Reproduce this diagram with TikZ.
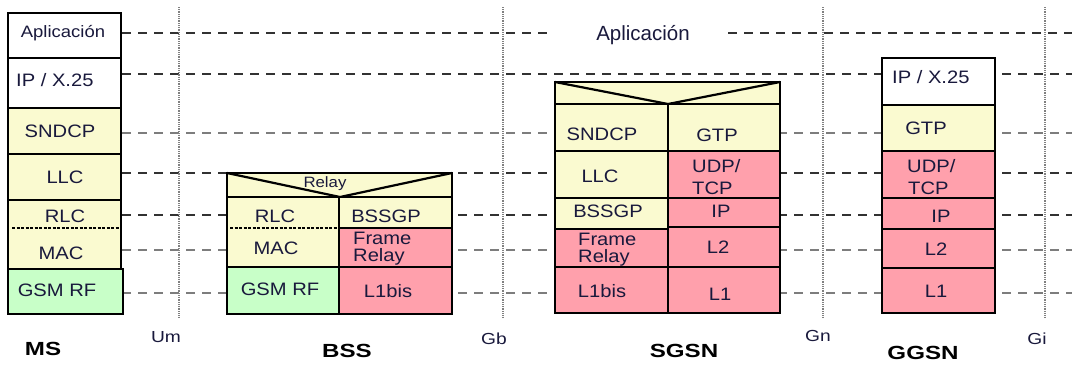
\documentclass[tikz,border=0pt]{standalone}
\usepackage{fontspec}
\setmainfont{Liberation Sans}
\usepackage{graphicx}
\definecolor{yel}{RGB}{250,250,208}
\definecolor{grn}{RGB}{200,255,200}
\definecolor{pnk}{RGB}{255,160,172}
\definecolor{txt}{RGB}{25,25,60}
\definecolor{dk}{RGB}{50,50,50}
\definecolor{lt}{RGB}{125,125,125}
\newcommand\hs[1]{\scalebox{1.12}[1]{#1}}
\newcommand\hl[1]{\scalebox{1.27}[1]{#1}}
\newcommand\hi[1]{\scalebox{1.2}[1]{#1}}
\begin{document}
\begin{tikzpicture}[x=1bp,y=-1bp,
  cell/.style={draw=black, line width=2.7bp},
  lay/.style={line width=1.4bp, dash pattern=on 9bp off 7bp},
  iface/.style={draw=gray, line width=1.2bp, dash pattern=on 1bp off 0.8bp},
  sep/.style={draw=black, line width=2.7bp, dash pattern=on 3bp off 1.5bp},
  vee/.style={draw=black, line width=2.2bp},
  t/.style={inner sep=0pt, anchor=base, text=txt, font=\fontsize{18bp}{20bp}\selectfont},
  tl/.style={t, anchor=base west},
  tsm/.style={t, font=\fontsize{16.5bp}{18bp}\selectfont},
  trel/.style={t, font=\fontsize{15bp}{17bp}\selectfont},
  lab/.style={inner sep=0pt, anchor=base, text=black, font=\fontsize{19bp}{21bp}\selectfont\bfseries},
  ifl/.style={inner sep=0pt, anchor=base, text=txt, font=\fontsize{16bp}{18bp}\selectfont},
  top/.style={inner sep=0pt, anchor=base, text=txt, font=\fontsize{20.5bp}{22bp}\selectfont}
]
\useasboundingbox (0,0) rectangle (1072,365);

% ---- layer alignment lines (dashed)
\coordinate (l1a) at (122,33);  \coordinate (l1b) at (553,33);
\coordinate (l1c) at (728,33);  \coordinate (l1d) at (1072,33);
\draw[lay, dk] (l1a) -- (l1b);
\draw[lay, dk] (l1c) -- (l1d);
\foreach \yy/\cc in {74/dk,133/lt,173/dk,215/dk,250/lt,293/lt}{
  \draw[lay, \cc] (122,\yy) -- (1072,\yy);
}

% ---- interface lines (dotted)
\foreach \xx/\nm in {179/um,503/gb,823/gn,1045/gi}{
  \coordinate (\nm-t) at (\xx,7);
  \coordinate (\nm-b) at (\xx,318);
  \draw[iface] (\nm-t) -- (\nm-b);
}

% ---- MS
\draw[cell, fill=white] (8,13) rectangle (121,58);
\draw[cell, fill=white] (8,58) rectangle (121,108);
\draw[cell, fill=yel] (8,108) rectangle (121,154);
\draw[cell, fill=yel] (8,154) rectangle (121,200);
\draw[cell, fill=yel] (8,200) rectangle (121,269);
\draw[cell, fill=grn] (8,269) rectangle (123,314);
\draw[sep] (12,228) -- (119,228);
\node[tsm] (ms-app) at (63,37) {\hs{Aplicación}};
\node[tl] (ms-ip) at (16,86) {\hs{IP / X.25}};
\node[t] (ms-sndcp) at (60,137) {\hs{SNDCP}};
\node[t] (ms-llc) at (65,183) {\hs{LLC}};
\node[t] (ms-rlc) at (65,222) {\hs{RLC}};
\node[t] (ms-mac) at (61,259) {\hs{MAC}};
\node[t] (ms-rf) at (57,296) {\hs{GSM RF}};

% ---- BSS
\draw[cell, fill=yel] (227,173) rectangle (452,197);
\draw[vee] (227,173) -- (340,197) -- (452,173);
\draw[cell, fill=yel] (227,197) rectangle (339,267);
\draw[cell, fill=yel] (339,197) rectangle (452,228);
\draw[cell, fill=pnk] (339,228) rectangle (452,267);
\draw[cell, fill=grn] (227,267) rectangle (339,314);
\draw[cell, fill=pnk] (339,267) rectangle (452,314);
\draw[sep] (230,228) -- (337,228);
\node[trel] (bss-relay) at (325,187) {\hs{Relay}};
\node[t] (bss-rlc) at (275,222) {\hs{RLC}};
\node[t] (bss-bssgp) at (386,222) {\hs{BSSGP}};
\node[t] (bss-mac) at (276,254) {\hs{MAC}};
\node[tl] (bss-fr1) at (353,244) {\hs{Frame}};
\node[tl] (bss-fr2) at (353,261) {\hs{Relay}};
\node[t] (bss-rf) at (280,295) {\hs{GSM RF}};
\node[t] (bss-l1) at (388,297) {\hs{L1bis}};

% ---- SGSN
\draw[cell, fill=yel] (555,82) rectangle (780,104);
\draw[vee] (555,82) -- (668,104) -- (780,82);
\draw[cell, fill=yel] (555,104) rectangle (668,151);
\draw[cell, fill=yel] (668,104) rectangle (780,151);
\draw[cell, fill=yel] (555,151) rectangle (668,198);
\draw[cell, fill=pnk] (668,151) rectangle (780,198);
\draw[cell, fill=yel] (555,198) rectangle (668,229);
\draw[cell, fill=pnk] (668,198) rectangle (780,227);
\draw[cell, fill=pnk] (555,229) rectangle (668,267);
\draw[cell, fill=pnk] (668,227) rectangle (780,267);
\draw[cell, fill=pnk] (555,267) rectangle (668,313);
\draw[cell, fill=pnk] (668,267) rectangle (780,313);
\node[t] (sg-sndcp) at (602,140) {\hs{SNDCP}};
\node[t] (sg-gtp) at (717,141) {\hs{GTP}};
\node[t] (sg-llc) at (600,182) {\hs{LLC}};
\node[tl] (sg-udp) at (692,172) {\hs{UDP/}};
\node[tl] (sg-tcp) at (692,194) {\hs{TCP}};
\node[t] (sg-bssgp) at (608,217) {\hs{BSSGP}};
\node[t] (sg-ip) at (721,217) {\hs{IP}};
\node[tl] (sg-fr1) at (578,245) {\hs{Frame}};
\node[tl] (sg-fr2) at (578,262) {\hs{Relay}};
\node[t] (sg-l2) at (718,253) {\hs{L2}};
\node[t] (sg-l1bis) at (602,297) {\hs{L1bis}};
\node[t] (sg-l1) at (720,300) {\hs{L1}};

% ---- GGSN
\draw[cell, fill=white] (882,58) rectangle (995,105);
\draw[cell, fill=yel] (882,105) rectangle (995,151);
\draw[cell, fill=pnk] (882,151) rectangle (995,198);
\draw[cell, fill=pnk] (882,198) rectangle (995,229);
\draw[cell, fill=pnk] (882,229) rectangle (995,268);
\draw[cell, fill=pnk] (882,268) rectangle (995,313);
\node[tl] (gg-ip) at (892,83) {\hs{IP / X.25}};
\node[t] (gg-gtp) at (926,134) {\hs{GTP}};
\node[tl] (gg-udp) at (907,172) {\hs{UDP/}};
\node[tl] (gg-tcp) at (908,194) {\hs{TCP}};
\node[t] (gg-ipl) at (941,222) {\hs{IP}};
\node[t] (gg-l2) at (936,255) {\hs{L2}};
\node[t] (gg-l1) at (936,297) {\hs{L1}};

% ---- top application label
\node[top] (app) at (643,40) {Aplicación};

% ---- element names
\node[lab] (n-ms) at (43,355) {\hl{MS}};
\node[lab] (n-bss) at (347,357) {\hl{BSS}};
\node[lab] (n-sgsn) at (684,357) {\hl{SGSN}};
\node[lab] (n-ggsn) at (923,359) {\hl{GGSN}};

% ---- interface names
\node[ifl] (i-um) at (166,342) {\hi{Um}};
\node[ifl] (i-gb) at (494,344) {\hi{Gb}};
\node[ifl] (i-gn) at (818,341) {\hi{Gn}};
\node[ifl] (i-gi) at (1037,344) {\hi{Gi}};
\end{tikzpicture}
\end{document}
